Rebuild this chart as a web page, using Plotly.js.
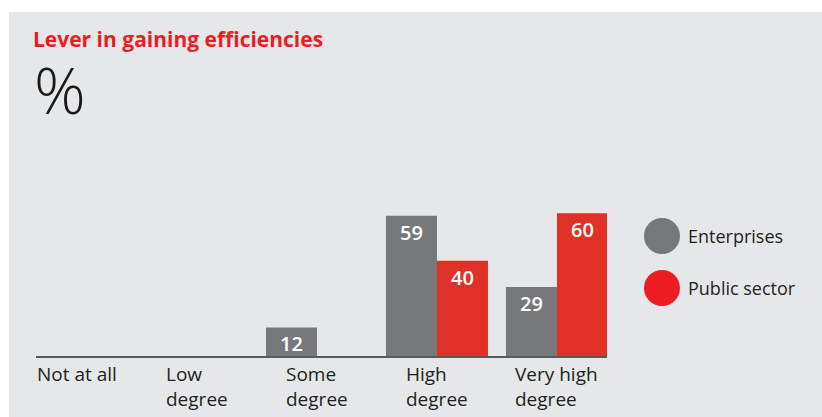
<!DOCTYPE html>
<html>
<head>
<meta charset="utf-8">
<script src="https://cdn.plot.ly/plotly-3.0.1.min.js"></script>
<style>
html,body{margin:0;padding:0;background:#ffffff;}
#chart{position:absolute;left:9px;top:12px;width:813px;height:405px;}
</style>
</head>
<body>
<div id="chart"></div>
<script>
const categories = ["Not at all", "Low degree", "Some degree", "High degree", "Very high degree"];
const categoryLabels = ["Not at all", "Low<br>degree", "Some<br>degree", "High<br>degree", "Very high<br>degree"];
const seriesNames = ["Enterprises", "Public sector"];
const enterprises = [0, 0, 12, 59, 29];
const publicSector = [0, 0, 0, 40, 60];

const FONT = "Open Sans, Noto Sans, sans-serif";
const GREY = "#77787b";
const RED_BAR = "#e03127";
const RED_LEG = "#ed1c24";

// page-pixel -> paper coordinate helpers (plot area: x 36..607, y 130..356)
const PL = 36, PW = 571, PB = 356, PH = 226;
const px = x => (x - PL) / PW;
const py = y => (PB - y) / PH;

function bar(name, vals, color) {
  return {
    type: "bar", name: name, x: categories, y: vals,
    marker: {color: color, line: {width: 0}},
    text: vals.map(v => v > 0 ? String(v) : ""),
    textposition: "inside", insidetextanchor: "end", textangle: 0,
    textfont: {family: FONT, size: 20, weight: 600, color: "#ffffff"},
    constraintext: "none", cliponaxis: false,
    hoverinfo: "x+y", showlegend: false
  };
}

const data = [bar(seriesNames[0], enterprises, GREY), bar(seriesNames[1], publicSector, RED_BAR)];

const annotations = categories.map((c, i) => ({
  x: c, y: 0, xref: "x", yref: "y",
  text: categoryLabels[i], showarrow: false,
  xanchor: "center", yanchor: "top", align: "left", yshift: -3,
  font: {family: FONT, size: 19, color: "#231f20"}
}));

annotations.push({
  xref: "paper", yref: "paper", x: px(32), y: py(90),
  xanchor: "left", yanchor: "middle", text: "%", showarrow: false,
  font: {family: FONT, size: 64, weight: 300, color: "#1a1a1a"}
});

const legendColors = [GREY, RED_LEG];
const legendY = [236, 288];
const shapes = [];
seriesNames.forEach((n, i) => {
  const cx = 662, cy = legendY[i], r = 18;
  shapes.push({
    type: "circle", xref: "paper", yref: "paper",
    x0: px(cx - r), x1: px(cx + r), y0: py(cy + r), y1: py(cy - r),
    fillcolor: legendColors[i], line: {width: 0}
  });
  annotations.push({
    xref: "paper", yref: "paper", x: px(686), y: py(cy),
    xanchor: "left", yanchor: "middle", text: n, showarrow: false,
    font: {family: FONT, size: 18, color: "#231f20"}
  });
});

const layout = {
  width: 813, height: 405,
  paper_bgcolor: "#e6e7e8", plot_bgcolor: "rgba(0,0,0,0)",
  margin: {l: 27, r: 215, t: 118, b: 61},
  barmode: "group", bargap: 0.15, bargroupgap: 0,
  title: {
    text: "<b>Lever in gaining efficiencies</b>",
    xref: "container", yref: "container", x: 24/813, y: 1 - 28/405,
    xanchor: "left", yanchor: "middle",
    font: {family: FONT, size: 21, color: RED_LEG}
  },
  xaxis: {
    type: "category", range: [-0.342, 4.417], showticklabels: false,
    showline: true, linecolor: "#58595b", linewidth: 1.5, ticks: "",
    showgrid: false, zeroline: false, fixedrange: true
  },
  yaxis: {
    range: [0, 95], visible: false, showgrid: false, zeroline: false, fixedrange: true
  },
  annotations: annotations,
  shapes: shapes,
  showlegend: false
};

Plotly.newPlot("chart", data, layout, {displayModeBar: false, staticPlot: true});
</script>
</body>
</html>
